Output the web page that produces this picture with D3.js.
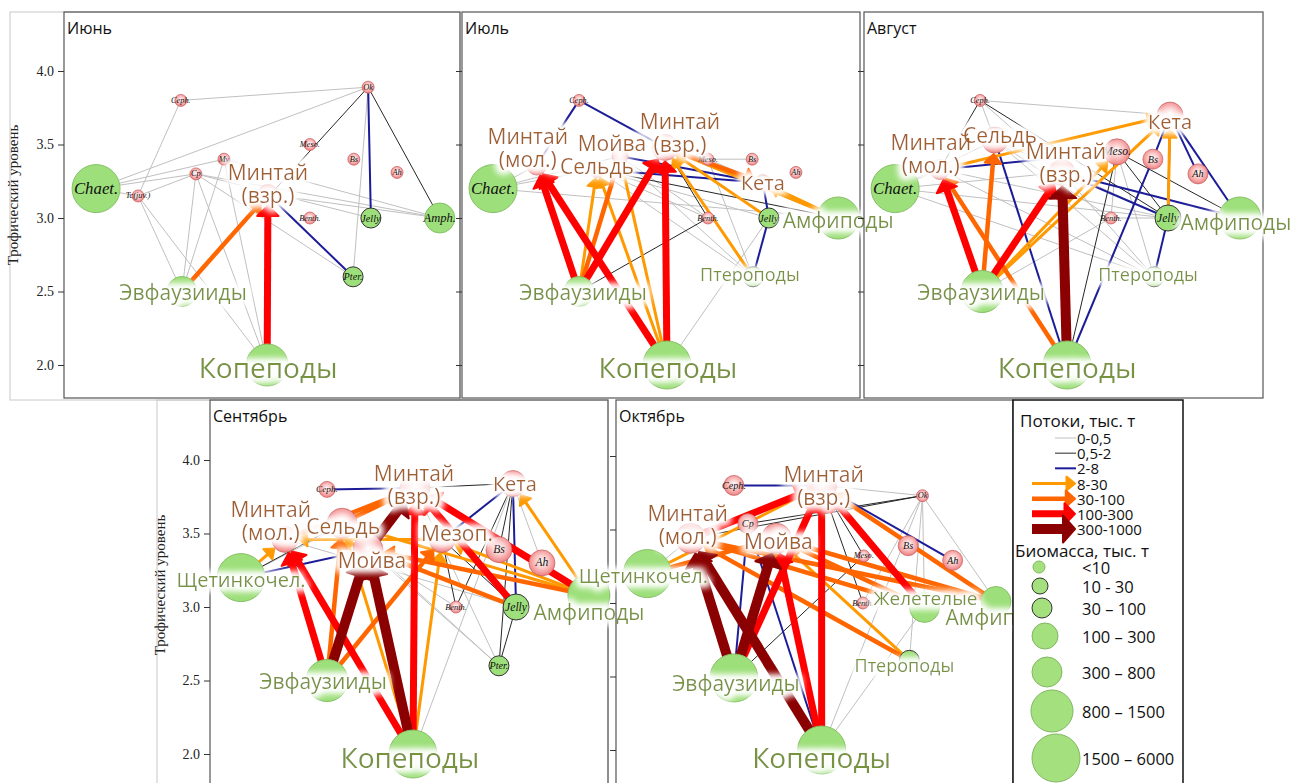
<!DOCTYPE html>
<html>
<head>
<meta charset="utf-8">
<script src="https://cdn.jsdelivr.net/npm/d3@7"></script>
<style>
  body { margin: 0; background: #fff; }
  svg { display: block; }
</style>
</head>
<body>
<svg id="chart" width="1293" height="783"></svg>
<script>
// ---- classes and axis values ----
const flowClasses = ["0-0,5", "0,5-2", "2-8", "8-30", "30-100", "100-300", "300-1000"];
const biomassClasses = ["<10", "10 - 30", "30 – 100", "100 – 300", "300 – 800", "800 – 1500", "1500 – 6000"];
const tlTicks = [2.0, 2.5, 3.0, 3.5, 4.0];
const months = ["Июнь", "Июль", "Август", "Сентябрь", "Октябрь"];

// Russian names of the main groups (lines of a label)
const groupNames = {
  MinA: ["Минтай", "(взр.)"], MinJ: ["Минтай", "(мол.)"], Capel: ["Мойва"], Herr: ["Сельдь"],
  Chum: ["Кета"], MesoR: ["Мезоп."], Chaet: ["Щетинкочел."], Jelly: ["Желетелые"],
  Amph: ["Амфиподы"], Pter: ["Птероподы"], Euph: ["Эвфаузииды"], Cop: ["Копеподы"]
};
// short Latin tags written inside the circles
const groupTags = {
  Chaet: "Chaet.", Tc: "Tc(juv.)", Ceph: "Ceph.", Mv: "Mv", Cp: "Cp", Meso: "Meso.", Bs: "Bs",
  Ah: "Ah", Ok: "Ok", Benth: "Benth.", Jelly: "Jelly", Amph: "Amph.", Pter: "Pter."
};
const zooplankton = new Set(["Chaet", "Jelly", "Amph", "Pter", "Euph", "Cop"]);

// ---- nodes: [group, place across the web (0-10), trophic level, biomass class] ----
const junNodes = [
  ["Chaet", 0.81, 3.20, 6], ["Tc", 1.87, 3.15, 0], ["Ceph", 2.95, 3.80, 0], ["Mv", 4.04, 3.40, 0],
  ["Cp", 3.33, 3.30, 0], ["MinA", 5.15, 3.16, 2], ["Meso", 6.21, 3.50, 0], ["Bs", 7.32, 3.40, 0],
  ["Ah", 8.41, 3.31, 0], ["Ok", 7.68, 3.89, 0], ["Benth", 6.21, 3.00, 0], ["Jelly", 7.75, 3.00, 2],
  ["Amph", 9.49, 3.00, 4], ["Pter", 7.30, 2.60, 2], ["Euph", 2.98, 2.50, 4], ["Cop", 5.13, 2.00, 5]
];
const julNodes = [
  ["Chaet", 0.78, 3.20, 6], ["Ceph", 2.94, 3.80, 0], ["MinJ", 1.88, 3.36, 2], ["Capel", 3.97, 3.42, 1],
  ["Herr", 3.39, 3.33, 1], ["MinA", 5.10, 3.48, 3], ["Meso", 6.18, 3.40, 0], ["Bs", 7.29, 3.40, 0],
  ["Ah", 8.39, 3.31, 0], ["Chum", 7.56, 3.24, 1], ["Benth", 6.18, 3.00, 0], ["Jelly", 7.71, 3.00, 2],
  ["Amph", 9.45, 3.00, 5], ["Pter", 7.31, 2.60, 2], ["Euph", 2.94, 2.50, 4], ["Cop", 5.15, 2.00, 6]
];
const augNodes = [
  ["Chaet", 0.78, 3.20, 6], ["Ceph", 2.91, 3.80, 0], ["MinJ", 1.90, 3.33, 2], ["Herr", 3.28, 3.53, 3],
  ["MinA", 4.96, 3.31, 3], ["Meso", 6.34, 3.45, 3], ["Chum", 7.67, 3.70, 3], ["Bs", 7.24, 3.40, 2],
  ["Ah", 8.37, 3.30, 2], ["Benth", 6.19, 3.00, 0], ["Jelly", 7.62, 3.00, 3], ["Amph", 9.42, 3.00, 5],
  ["Pter", 7.27, 2.60, 2], ["Euph", 2.96, 2.50, 5], ["Cop", 5.09, 2.00, 6]
];
const sepNodes = [
  ["Chaet", 0.78, 3.20, 6], ["Ceph", 2.94, 3.80, 1], ["MinJ", 1.88, 3.46, 3], ["Herr", 3.32, 3.57, 4],
  ["Capel", 3.97, 3.39, 4], ["MinA", 5.15, 3.81, 4], ["MesoR", 5.83, 3.46, 3], ["Chum", 7.61, 3.84, 3],
  ["Bs", 7.26, 3.39, 3], ["Ah", 8.34, 3.30, 3], ["Benth", 6.18, 3.00, 0], ["Jelly", 7.69, 3.00, 3],
  ["Amph", 9.52, 3.08, 5], ["Pter", 7.26, 2.60, 2], ["Euph", 2.94, 2.50, 5], ["Cop", 5.10, 2.00, 6]
];
const octNodes = [
  ["Chaet", 0.79, 3.20, 6], ["Ceph", 2.97, 3.80, 2], ["MinJ", 1.88, 3.44, 4], ["Cp", 3.32, 3.54, 2],
  ["Capel", 4.04, 3.44, 4], ["MinA", 5.18, 3.80, 4], ["Ok", 7.72, 3.73, 0], ["Meso", 6.24, 3.32, 0],
  ["Bs", 7.36, 3.39, 2], ["Ah", 8.48, 3.29, 2], ["Benth", 6.22, 3.00, 0], ["Jelly", 7.77, 2.97, 4],
  ["Amph", 9.57, 3.01, 4], ["Pter", 7.39, 2.61, 2], ["Euph", 2.97, 2.49, 6], ["Cop", 5.18, 2.00, 6]
];

// ---- flows: [prey, consumer, flow class] ----
const junFlows = [
  ["Ceph", "Ok", 0], ["Chaet", "Ok", 0], ["Tc", "Ceph", 0], ["Chaet", "Mv", 0], ["Chaet", "Cp", 0],
  ["Chaet", "Tc", 0], ["Tc", "Cp", 0], ["Cp", "Jelly", 0], ["Cp", "Amph", 0], ["Mv", "Amph", 0],
  ["Cp", "Pter", 0], ["Tc", "Euph", 0], ["Cp", "Euph", 0], ["Mv", "Euph", 0], ["Tc", "Cop", 0],
  ["Cp", "Cop", 0], ["Mv", "Cop", 0], ["Ok", "Pter", 0], ["MinA", "Amph", 0],
  ["Ok", "Amph", 1], ["Euph", "Ok", 1],
  ["Ok", "Jelly", 2], ["MinA", "Pter", 2],
  ["Euph", "MinA", 4], ["Cop", "MinA", 5]
];
const julFlows = [
  ["Chaet", "MinJ", 0], ["Chaet", "Capel", 0], ["Chaet", "Herr", 0], ["Chaet", "Amph", 0], ["Cop", "Jelly", 0],
  ["Herr", "Pter", 0], ["Herr", "Jelly", 0], ["Meso", "Bs", 0], ["Meso", "Pter", 0], ["Capel", "Benth", 0],
  ["MinA", "Meso", 0], ["Herr", "Benth", 0], ["Capel", "Pter", 0], ["Meso", "Chum", 0],
  ["Euph", "Benth", 1], ["MinA", "Benth", 1], ["Herr", "Amph", 1],
  ["Ceph", "MinJ", 2], ["Ceph", "MinA", 2], ["Herr", "Chum", 2], ["Capel", "Chum", 2], ["Jelly", "Chum", 2],
  ["Pter", "Jelly", 2], ["MinA", "Amph", 2],
  ["Euph", "Herr", 3], ["Cop", "Herr", 3], ["Cop", "Capel", 3], ["Pter", "MinA", 3], ["Amph", "MinA", 3],
  ["Jelly", "MinA", 3], ["Amph", "Chum", 3],
  ["Euph", "Capel", 4], ["MinA", "Chum", 4],
  ["Euph", "MinJ", 5], ["Cop", "MinJ", 5], ["Euph", "MinA", 5], ["Cop", "MinA", 5]
];
const augFlows = [
  ["Ceph", "Chum", 0], ["Ceph", "Herr", 0], ["Ceph", "MinA", 0], ["Chaet", "MinJ", 0], ["Chaet", "Herr", 0],
  ["Chaet", "MinA", 0], ["Chaet", "Jelly", 0], ["Chaet", "Pter", 0], ["Herr", "Pter", 0], ["MinA", "Pter", 0],
  ["Meso", "Benth", 0], ["Benth", "Jelly", 0], ["Herr", "Jelly", 0], ["MinJ", "Pter", 0], ["Herr", "Benth", 0],
  ["Euph", "Benth", 0], ["MinJ", "Jelly", 0], ["Meso", "Pter", 0],
  ["Ceph", "MinJ", 1], ["Ceph", "Jelly", 1], ["Cop", "Meso", 1], ["Meso", "Jelly", 1], ["Meso", "Amph", 1],
  ["Herr", "Cop", 2], ["MinJ", "Meso", 2], ["Chum", "Jelly", 2], ["Chum", "Ah", 2], ["Chum", "Amph", 2],
  ["Chum", "Bs", 2], ["Cop", "Bs", 2], ["Jelly", "Pter", 2], ["MinA", "Amph", 2], ["MinA", "Jelly", 2],
  ["Euph", "Chum", 3], ["Euph", "Meso", 3], ["MinJ", "Chum", 3], ["Jelly", "Chum", 3],
  ["Cop", "MinJ", 4], ["Euph", "Herr", 4],
  ["Euph", "MinJ", 5], ["Euph", "MinA", 5],
  ["Cop", "MinA", 6]
];
const sepFlows = [
  ["Capel", "Pter", 0], ["Herr", "Pter", 0], ["Cop", "Chum", 0], ["MinJ", "Jelly", 0], ["Chaet", "MinA", 0],
  ["Chum", "Amph", 0], ["Chum", "Ah", 0], ["Capel", "Benth", 0], ["MinA", "Pter", 0],
  ["MinA", "Chum", 1], ["Chaet", "Herr", 1], ["Chum", "Benth", 1], ["Chum", "Pter", 1], ["Chum", "Bs", 1],
  ["MesoR", "Benth", 1], ["MesoR", "Jelly", 1], ["Capel", "Jelly", 1], ["Pter", "Jelly", 1],
  ["Ceph", "MinA", 2], ["Chaet", "Capel", 2], ["Chum", "Jelly", 2], ["Chum", "MesoR", 2],
  ["Chaet", "MinJ", 3], ["Cop", "Herr", 3], ["Cop", "MesoR", 3], ["Amph", "Chum", 3], ["Amph", "MesoR", 3],
  ["MesoR", "MinJ", 3], ["Amph", "Herr", 3],
  ["Euph", "Herr", 4], ["Euph", "MesoR", 4], ["MinJ", "MinA", 4], ["Herr", "MinA", 4], ["Amph", "Capel", 4],
  ["Jelly", "Capel", 4],
  ["Euph", "MinJ", 5], ["Cop", "MinJ", 5], ["Cop", "MinA", 5], ["Amph", "MinA", 5], ["Jelly", "MinA", 5],
  ["Euph", "Capel", 6], ["Cop", "Capel", 6], ["Capel", "MinA", 6]
];
const octFlows = [
  ["MinA", "Ok", 0], ["Ok", "Jelly", 0], ["Ok", "Amph", 0], ["Ok", "Pter", 0], ["Ok", "Benth", 0],
  ["Cop", "Ok", 0], ["Cop", "Jelly", 0], ["Chaet", "MinJ", 0],
  ["MinJ", "Ok", 1], ["Cp", "Ok", 1], ["Euph", "Meso", 1], ["MinA", "Benth", 1], ["MinA", "Meso", 1],
  ["Ceph", "MinA", 2], ["Euph", "Cp", 2], ["Cop", "Cp", 2], ["MinA", "Ah", 2], ["Capel", "Jelly", 2],
  ["Capel", "Amph", 2],
  ["Chaet", "MinA", 3], ["Pter", "Capel", 3],
  ["Chaet", "Capel", 4], ["Amph", "MinA", 4], ["Jelly", "Capel", 4], ["Amph", "Capel", 4], ["Jelly", "MinJ", 4],
  ["Pter", "MinJ", 4], ["Amph", "MinJ", 4],
  ["MinJ", "MinA", 5], ["Euph", "MinA", 5], ["Cop", "Capel", 5], ["Cop", "MinA", 5], ["Jelly", "MinA", 5],
  ["Euph", "MinJ", 6], ["Cop", "MinJ", 6], ["Euph", "Capel", 6]
];

// ---- name labels: [group, dx, dy, font size] (offset of the label block from its circle) ----
const junLabels = [["MinA", 0, -11, 21], ["Euph", 1, 0, 21], ["Cop", 1, 2, 28]];
const julLabels = [
  ["MinJ", -9, -18, 21], ["Capel", -8, -13, 21], ["Herr", 0, -3, 21], ["MinA", 15, -15, 21],
  ["Chum", 0, 0, 20], ["Amph", 0, 2, 21], ["Pter", -3, -3, 18], ["Euph", 4, 0, 21], ["Cop", 1, 2, 28]
];
const augLabels = [
  ["MinJ", -9, -16, 21], ["Herr", 5, -5, 21], ["MinA", 4, -10, 21], ["Chum", 0, 6, 20],
  ["Amph", -4, 4, 21], ["Pter", -6, -3, 18], ["Euph", -1, 0, 21], ["Cop", 0, 2, 28]
];
const sepLabels = [
  ["Chaet", 0, 2, 20], ["MinJ", -14, -19, 21], ["Herr", 1, 3, 21], ["Capel", 4, 10, 21], ["MinA", -1, -3, 21],
  ["MesoR", 15, -6, 21], ["Chum", 2, 0, 20], ["Amph", 0, 17, 21], ["Euph", -4, 0, 21], ["Cop", -3, 3, 28]
];
const octLabels = [
  ["Chaet", -4, 2, 20], ["MinJ", -3, -14, 21], ["Capel", 2, 3, 21], ["MinA", 2, 0, 21], ["Jelly", 1, -9, 19],
  ["Amph", 5, 15, 21], ["Pter", -5, 5, 18], ["Euph", 2, 5, 21], ["Cop", 0, 7, 28]
];

// ---- styles ----
const flowColor = ["#c0c0c0", "#262626", "#1c1c98", "#ff9900", "#ff6600", "#ff0000", "#8b0000"];
const flowWidth = [1, 1, 2, 3, 4.5, 7, 10];
const nodeRadius = [6, 8, 10, 13, 15, 21, 24];
const brown = "#a35f2b", olive = "#77933c";
const sans = "'Open Sans', 'Noto Sans', sans-serif";
const serif = "'Liberation Serif', 'DejaVu Serif', serif";

const svg = d3.select("#chart");
const defs = svg.append("defs");

// soft white glow behind the group names
const halo = defs.append("filter").attr("id", "halo")
  .attr("x", "-30%").attr("y", "-60%").attr("width", "160%").attr("height", "220%");
halo.append("feMorphology").attr("in", "SourceAlpha").attr("operator", "dilate").attr("radius", 3).attr("result", "fat");
halo.append("feGaussianBlur").attr("in", "fat").attr("stdDeviation", 3.5).attr("result", "soft");
halo.append("feFlood").attr("flood-color", "#ffffff").attr("result", "white");
halo.append("feComposite").attr("in", "white").attr("in2", "soft").attr("operator", "in").attr("result", "glow");
const hm = halo.append("feMerge");
hm.append("feMergeNode").attr("in", "glow");
hm.append("feMergeNode").attr("in", "glow");
hm.append("feMergeNode").attr("in", "SourceGraphic");

const pink = defs.append("radialGradient").attr("id", "pinkFill").attr("cx", "50%").attr("cy", "45%").attr("r", "55%");
[[0, "#ffffff"], [0.45, "#fbcaca"], [1, "#ef7d7d"]].forEach(([o, c]) =>
  pink.append("stop").attr("offset", o).attr("stop-color", c));

// flow line with an arrow head at the consumer for the big classes
function drawFlow(g, s, t, cls) {
  const dx = t.x - s.x, dy = t.y - s.y, len = Math.hypot(dx, dy) || 1;
  const ux = dx / len, uy = dy / len;
  const w = flowWidth[cls], col = flowColor[cls];
  if (cls < 3) {
    g.append("line").attr("x1", s.x).attr("y1", s.y).attr("x2", t.x).attr("y2", t.y)
      .attr("stroke", col).attr("stroke-width", w);
    return;
  }
  const tipX = t.x - ux * (t.r + 1), tipY = t.y - uy * (t.r + 1);
  const hl = 7 + w * 0.5, hw = 8 + w * 1.9;
  const bx = tipX - ux * hl, by = tipY - uy * hl;
  g.append("line").attr("x1", s.x).attr("y1", s.y).attr("x2", bx + ux).attr("y2", by + uy)
    .attr("stroke", col).attr("stroke-width", w);
  const px = -uy, py = ux;
  const pts = [[tipX, tipY], [bx + px * hw / 2, by + py * hw / 2], [bx - px * hw / 2, by - py * hw / 2]];
  g.append("path").attr("d", d3.line()(pts) + "Z")
    .attr("fill", col).attr("stroke", col).attr("stroke-width", 2).attr("stroke-linejoin", "round");
}

function drawMonth(frame, title, nodes, flows, labels) {
  const g = svg.append("g");
  const x = d3.scaleLinear().domain([0, 10]).range([frame.left, frame.right]);
  const y = d3.scaleLinear().domain([2, 4]).range([frame.y2, frame.y4]);

  if (frame.outer) {
    g.append("rect").attr("x", frame.outer[0]).attr("y", frame.outer[1])
      .attr("width", frame.right - frame.outer[0]).attr("height", frame.outer[2] - frame.outer[1])
      .attr("fill", "none").attr("stroke", "#c8c8c8");
  }
  g.append("rect").attr("x", frame.left).attr("y", frame.top)
    .attr("width", frame.right - frame.left).attr("height", frame.bottom - frame.top)
    .attr("fill", "none").attr("stroke", "#555").attr("stroke-width", 1.2);

  const axis = d3.axisLeft(y).tickValues(tlTicks).tickSize(6).tickPadding(4)
    .tickFormat(frame.tickLabels ? d3.format(".1f") : () => "");
  const ag = g.append("g").attr("transform", `translate(${frame.left},0)`).call(axis);
  ag.select(".domain").remove();
  ag.selectAll("line").attr("stroke", "#333");
  ag.selectAll("text").attr("font-family", serif).attr("font-size", 14).attr("fill", "#222");
  if (frame.tickLabels) {
    g.append("text").attr("transform", `translate(${frame.titleX},${frame.titleY}) rotate(-90)`)
      .attr("text-anchor", "middle").attr("font-family", serif).attr("font-size", 15).attr("fill", "#222")
      .text("Трофический уровень");
  }

  const pos = new Map(nodes.map(([id, u, tl, b]) => [id, { id, x: x(u), y: y(tl), r: nodeRadius[b], b }]));

  const fg = g.append("g");
  flows.slice().sort((a, b) => a[2] - b[2]).forEach(([a, b, c]) => drawFlow(fg, pos.get(a), pos.get(b), c));

  const ng = g.append("g");
  pos.forEach(n => {
    const green = zooplankton.has(n.id);
    ng.append("circle").attr("cx", n.x).attr("cy", n.y).attr("r", n.r)
      .attr("fill", green ? "#9ddf7a" : "url(#pinkFill)")
      .attr("stroke", green ? (n.b >= 1 && n.b <= 3 ? "#333" : "#86c066") : "#c45a5a")
      .attr("stroke-width", green ? 1 : 0.7);
  });
  const named = new Set(labels.map(l => l[0]));
  pos.forEach(n => {
    const tag = groupTags[n.id];
    if (!tag || named.has(n.id)) return;
    ng.append("text").attr("x", n.x).attr("y", n.y).attr("text-anchor", "middle")
      .attr("dominant-baseline", "central").attr("font-family", serif).attr("font-style", "italic")
      .attr("font-size", 5.5 + n.r * 0.47).attr("fill", "#111").text(tag);
  });

  const lg = g.append("g").attr("filter", "url(#halo)");
  labels.forEach(([id, dx, dy, fs]) => {
    const n = pos.get(id), lines = groupNames[id];
    const lh = fs * 1.1;
    const y0 = n.y + dy - (lines.length - 1) * lh / 2;
    lines.forEach((t, i) => {
      lg.append("text").attr("x", n.x + dx).attr("y", y0 + i * lh).attr("text-anchor", "middle")
        .attr("dominant-baseline", "central").attr("font-family", sans).attr("font-size", fs)
        .attr("fill", zooplankton.has(id) ? olive : brown).text(t);
    });
  });

  g.append("text").attr("x", frame.left + 3).attr("y", frame.top + 22).attr("font-family", sans)
    .attr("font-size", 16).attr("fill", "#111").text(title);
}

// panel frames
const frames = [
  { left: 64, right: 460, top: 12, bottom: 398, y4: 71, y2: 365, tickLabels: true, titleX: 18, titleY: 195, outer: [10, 12, 400] },
  { left: 462, right: 860, top: 12, bottom: 398, y4: 71, y2: 365 },
  { left: 864, right: 1263, top: 12, bottom: 398, y4: 71, y2: 365 },
  { left: 210, right: 608, top: 400, bottom: 792, y4: 460, y2: 754, tickLabels: true, titleX: 165, titleY: 585, outer: [157, 400, 792] },
  { left: 616, right: 1013, top: 400, bottom: 792, y4: 456, y2: 750 }
];
const monthNodes = [junNodes, julNodes, augNodes, sepNodes, octNodes];
const monthFlows = [junFlows, julFlows, augFlows, sepFlows, octFlows];
const monthLabels = [junLabels, julLabels, augLabels, sepLabels, octLabels];
months.forEach((m, i) => drawMonth(frames[i], m, monthNodes[i], monthFlows[i], monthLabels[i]));

// ---- legend ----
const leg = svg.append("g");
leg.append("rect").attr("x", 1013).attr("y", 400).attr("width", 170).attr("height", 392)
  .attr("fill", "#fff").attr("stroke", "#111").attr("stroke-width", 1.5);
leg.append("text").attr("x", 1020).attr("y", 420).attr("dominant-baseline", "central")
  .attr("font-family", sans).attr("font-size", 17).attr("fill", "#111").text("Потоки, тыс. т");
const flowRow = d3.scalePoint().domain(flowClasses).range([438, 529]);
flowClasses.forEach((c, i) => {
  const yy = flowRow(c);
  if (i < 3) {
    leg.append("line").attr("x1", 1055).attr("x2", 1076).attr("y1", yy).attr("y2", yy)
      .attr("stroke", flowColor[i]).attr("stroke-width", flowWidth[i]);
  } else {
    drawFlow(leg, { x: 1032, y: yy, r: 0 }, { x: 1076, y: yy, r: 0 }, i);
  }
  leg.append("text").attr("x", 1077).attr("y", yy).attr("dominant-baseline", "central")
    .attr("font-family", sans).attr("font-size", 15).attr("fill", "#111").text(c);
});
leg.append("text").attr("x", 1015).attr("y", 550).attr("dominant-baseline", "central")
  .attr("font-family", sans).attr("font-size", 17).attr("fill", "#111").text("Биомасса, тыс. т");
const bioRowY = [567, 586, 608, 636, 672, 711, 758];
const bioRowX = [1039, 1040, 1042, 1045, 1047, 1052, 1056];
biomassClasses.forEach((c, i) => {
  leg.append("circle").attr("cx", bioRowX[i]).attr("cy", bioRowY[i]).attr("r", nodeRadius[i])
    .attr("fill", "#a5e07e").attr("stroke", i >= 1 && i <= 2 ? "#333" : "#80b862").attr("stroke-width", 1);
  leg.append("text").attr("x", 1082).attr("y", bioRowY[i]).attr("dominant-baseline", "central")
    .attr("font-family", sans).attr("font-size", 16.5).attr("fill", "#111").text(c);
});
</script>
</body>
</html>
